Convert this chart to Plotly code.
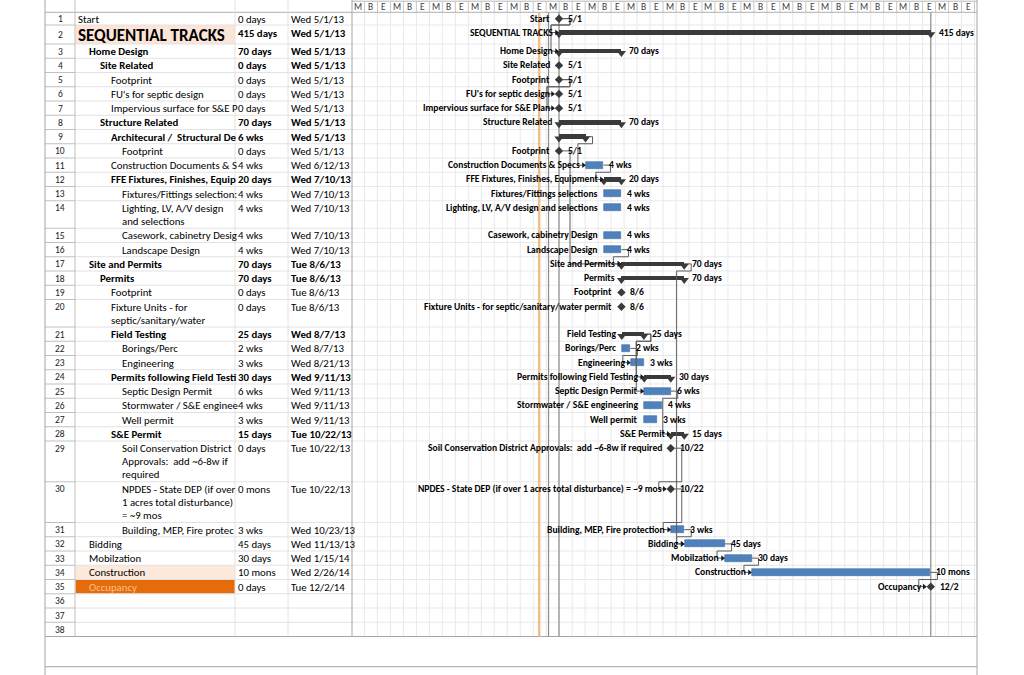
import plotly.graph_objects as go
from datetime import datetime, timedelta

# ------------------------------------------------------------------ data
row_ids = list(range(1, 39))

table_names = [
    "Start", "SEQUENTIAL TRACKS", "Home Design", "Site Related", "Footprint",
    "FU's for septic design", "Impervious surface for S&E P", "Structure Related",
    "Architecural /  Structural De", "Footprint", "Construction Documents & S",
    "FFE Fixtures, Finishes, Equip", "Fixtures/Fittings selection:",
    "Lighting, LV, A/V design\nand selections", "Casework, cabinetry Desig",
    "Landscape Design", "Site and Permits", "Permits", "Footprint",
    "Fixture Units - for\nseptic/sanitary/water", "Field Testing", "Borings/Perc",
    "Engineering", "Permits following Field Testi", "Septic Design Permit",
    "Stormwater / S&E enginee", "Well permit", "S&E Permit",
    "Soil Conservation District\nApprovals:  add ~6-8w if\nrequired",
    "NPDES - State DEP (if over\n1 acres total disturbance)\n= ~9 mos",
    "Building, MEP, Fire protec", "Bidding", "Mobilzation", "Construction", "Occupancy",
]

durations = [
    "0 days", "415 days", "70 days", "0 days", "0 days", "0 days", "0 days", "70 days",
    "6 wks", "0 days", "4 wks", "20 days", "4 wks", "4 wks", "4 wks", "4 wks",
    "70 days", "70 days", "0 days", "0 days", "25 days", "2 wks", "3 wks", "30 days",
    "6 wks", "4 wks", "3 wks", "15 days", "0 days", "0 mons", "3 wks", "45 days",
    "30 days", "10 mons", "0 days",
]

start_labels = [
    "Wed 5/1/13", "Wed 5/1/13", "Wed 5/1/13", "Wed 5/1/13", "Wed 5/1/13", "Wed 5/1/13",
    "Wed 5/1/13", "Wed 5/1/13", "Wed 5/1/13", "Wed 5/1/13", "Wed 6/12/13", "Wed 7/10/13",
    "Wed 7/10/13", "Wed 7/10/13", "Wed 7/10/13", "Wed 7/10/13", "Tue 8/6/13", "Tue 8/6/13",
    "Tue 8/6/13", "Tue 8/6/13", "Wed 8/7/13", "Wed 8/7/13", "Wed 8/21/13", "Wed 9/11/13",
    "Wed 9/11/13", "Wed 9/11/13", "Wed 9/11/13", "Tue 10/22/13", "Tue 10/22/13",
    "Tue 10/22/13", "Wed 10/23/13", "Wed 11/13/13", "Wed 1/15/14", "Wed 2/26/14", "Tue 12/2/14",
]

outline_level = [0, 0, 1, 2, 3, 3, 3, 2, 3, 4, 3, 3, 4, 4, 4, 4, 1, 2, 3, 3, 3, 4, 4, 3, 4,
                 4, 4, 3, 4, 4, 4, 1, 1, 1, 1]

is_summary = [False, True, True, True, False, False, False, True, True, False, False, True,
              False, False, False, False, True, True, False, False, True, False, False, True,
              False, False, False, True, False, False, False, False, False, False, False]

bar_kind = ["milestone", "summary", "summary", "milestone", "milestone", "milestone",
            "milestone", "summary", "summary", "milestone", "task", "summary", "task", "task",
            "task", "task", "summary", "summary", "milestone", "milestone", "summary", "task",
            "task", "summary", "task", "task", "task", "summary", "milestone", "milestone",
            "task", "task", "task", "task", "milestone"]

bar_start = [
    "2013-05-01 08:00", "2013-05-01 08:00", "2013-05-01 08:00", "2013-05-01 08:00",
    "2013-05-01 08:00", "2013-05-01 08:00", "2013-05-01 08:00", "2013-05-01 08:00",
    "2013-05-01 08:00", "2013-05-01 08:00", "2013-06-12 08:00", "2013-07-10 08:00",
    "2013-07-10 08:00", "2013-07-10 08:00", "2013-07-10 08:00", "2013-07-10 08:00",
    "2013-08-06 17:00", "2013-08-06 17:00", "2013-08-06 17:00", "2013-08-06 17:00",
    "2013-08-07 08:00", "2013-08-07 08:00", "2013-08-21 08:00", "2013-09-11 08:00",
    "2013-09-11 08:00", "2013-09-11 08:00", "2013-09-11 08:00", "2013-10-22 17:00",
    "2013-10-22 17:00", "2013-10-22 17:00", "2013-10-23 08:00", "2013-11-13 08:00",
    "2014-01-15 08:00", "2014-02-26 08:00", "2014-12-02 08:00",
]

bar_finish = [
    "2013-05-01 08:00", "2014-12-02 08:00", "2013-08-06 17:00", "2013-05-01 08:00",
    "2013-05-01 08:00", "2013-05-01 08:00", "2013-05-01 08:00", "2013-08-06 17:00",
    "2013-06-11 17:00", "2013-05-01 08:00", "2013-07-09 17:00", "2013-08-06 17:00",
    "2013-08-06 17:00", "2013-08-06 17:00", "2013-08-06 17:00", "2013-08-06 17:00",
    "2013-11-12 17:00", "2013-11-12 17:00", "2013-08-06 17:00", "2013-08-06 17:00",
    "2013-09-10 17:00", "2013-08-20 17:00", "2013-09-10 17:00", "2013-10-22 17:00",
    "2013-10-22 17:00", "2013-10-08 17:00", "2013-10-01 17:00", "2013-11-12 17:00",
    "2013-10-22 17:00", "2013-10-22 17:00", "2013-11-12 17:00", "2014-01-14 17:00",
    "2014-02-25 17:00", "2014-12-01 17:00", "2014-12-02 08:00",
]

chart_names = [
    "Start", "SEQUENTIAL TRACKS", "Home Design", "Site Related", "Footprint",
    "FU's for septic design", "Impervious surface for S&E Plan", "Structure Related", "",
    "Footprint", "Construction Documents & Specs", "FFE Fixtures, Finishes, Equipment",
    "Fixtures/Fittings selections", "Lighting, LV, A/V design and selections",
    "Casework, cabinetry Design", "Landscape Design", "Site and Permits", "Permits",
    "Footprint", "Fixture Units - for septic/sanitary/water permit", "Field Testing",
    "Borings/Perc", "Engineering", "Permits following Field Testing", "Septic Design Permit",
    "Stormwater / S&E engineering", "Well permit", "S&E Permit",
    "Soil Conservation District Approvals:  add ~6-8w if required",
    "NPDES - State DEP (if over 1 acres total disturbance) = ~9 mos",
    "Building, MEP, Fire protection", "Bidding", "Mobilzation", "Construction", "Occupancy",
]

chart_right = [
    "5/1", "415 days", "70 days", "5/1", "5/1", "5/1", "5/1", "70 days", "", "5/1", "4 wks",
    "20 days", "4 wks", "4 wks", "4 wks", "4 wks", "70 days", "70 days", "8/6", "8/6",
    "25 days", "2 wks", "3 wks", "30 days", "6 wks", "4 wks", "3 wks", "15 days", "10/22",
    "10/22", "3 wks", "45 days", "30 days", "10 mons", "12/2",
]

# predecessor -> successor (row ids)
links = [(1, 2), (1, 3), (5, 6), (5, 7), (9, 11), (11, 12), (10, 17), (16, 17), (22, 23),
         (21, 24), (21, 25), (25, 28), (29, 30), (30, 31), (17, 32), (31, 32), (32, 33),
         (33, 34), (34, 35)]

# vertical marker lines: (date, colour, width)
marker_lines = [("2013-03-31 10:00", "#F2BE8A", 2.5), ("2013-04-15 00:00", "#8C8C8C", 1.2),
                ("2013-05-01 08:00", "#8C8C8C", 1.2), ("2014-12-02 08:00", "#8C8C8C", 1.2)]

timescale_letters = ["M", "B", "E"] * 16

# ------------------------------------------------------------------ geometry
W, H = 1024, 675
X_TABLE_L, X_ID_R, X_NAME_R, X_DUR_R, X_CHART_L, X_CHART_R = 45, 75, 235, 288, 352, 977
Y_HEADER_B = 12.3
ORIGIN = datetime(2013, 5, 1, 8)
ORIGIN_PX = 559.0
PX_PER_DAY = 0.641
CELL_W = 12.98
CELL_X0 = 351.5

FONT = "Carlito, 'Liberation Sans Narrow', 'Arial Narrow', 'Roboto Condensed', Roboto, sans-serif"


def P(x):
    return x / W


def to_dt(s):
    return datetime.strptime(s, "%Y-%m-%d %H:%M")


def date_px(d):
    return ORIGIN_PX + (d - ORIGIN).total_seconds() / 86400.0 * PX_PER_DAY


def px_date(x):
    return ORIGIN + timedelta(days=(x - ORIGIN_PX) / PX_PER_DAY)


n_tasks = len(table_names)
row_lines = [1] * 38
for i, nm in enumerate(table_names):
    row_lines[i] = nm.count("\n") + 1

heights = []
for i in range(38):
    if i == 0:
        heights.append(12.7)
    elif i == 1:
        heights.append(19.0)
    else:
        heights.append(14.25 + 13.25 * (row_lines[i] - 1))
tops = []
yy = Y_HEADER_B
for h in heights:
    tops.append(yy)
    yy += h
Y_BOTTOM = yy

bar_y = [tops[i] + (7.5 if i == 1 else min(7.2, heights[i] / 2)) for i in range(38)]

starts = [to_dt(s) for s in bar_start]
finishes = [to_dt(s) for s in bar_finish]

x_min = px_date(X_CHART_L)
x_max = px_date(X_CHART_R)

fig = go.Figure()
shapes = []
annotations = []


def hline(x0, x1, y, color, width=1, layer="below"):
    shapes.append(dict(type="line", xref="paper", yref="y", x0=P(x0), x1=P(x1), y0=y, y1=y,
                       line=dict(color=color, width=width), layer=layer))


def vline(x, y0, y1, color, width=1, layer="below"):
    shapes.append(dict(type="line", xref="paper", yref="y", x0=P(x), x1=P(x), y0=y0, y1=y1,
                       line=dict(color=color, width=width), layer=layer))


# cell fills
fills = {1: "#FCE4D6", 33: "#FDE9D9", 34: "#E46C0A"}
for i, col in fills.items():
    shapes.append(dict(type="rect", xref="paper", yref="y", x0=P(X_ID_R + 0.5), x1=P(X_NAME_R),
                       y0=tops[i], y1=tops[i] + heights[i], fillcolor=col, line=dict(width=0),
                       layer="below"))

# chart grid: vertical cell lines
for k in range(49):
    x = CELL_X0 + CELL_W * k
    if X_CHART_L < x < X_CHART_R:
        vline(x, Y_HEADER_B, Y_BOTTOM, "#E9E9E9")
        vline(x, 1.5, Y_HEADER_B, "#C8C8C8")

# row lines
for i in range(38):
    yb = tops[i] + heights[i]
    hline(X_TABLE_L, X_ID_R, yb, "#C0C0C0")
    hline(X_ID_R, X_CHART_L, yb, "#E2E2E2")
    hline(X_CHART_L, X_CHART_R, yb, "#E9E9E9")

# header / frame lines
hline(X_TABLE_L, X_CHART_R, Y_HEADER_B, "#B0B0B0")
hline(X_CHART_L, X_CHART_R, 1.2, "#B8B8B8")
vline(X_ID_R, 0, Y_BOTTOM, "#C0C0C0")
vline(X_NAME_R, 0, Y_BOTTOM, "#E2E2E2")
vline(X_DUR_R, 0, Y_BOTTOM, "#E2E2E2")
vline(X_CHART_L, 0, Y_BOTTOM, "#A6A6A6")
vline(X_TABLE_L, 0, H, "#A6A6A6")
vline(X_CHART_R, 0, H, "#A6A6A6")
hline(X_TABLE_L, X_CHART_R, Y_BOTTOM, "#A6A6A6")
hline(X_TABLE_L, X_CHART_R, 666.7, "#A6A6A6")

# marker lines on the date axis
for d, col, w in marker_lines:
    shapes.append(dict(type="line", xref="x", yref="y", x0=to_dt(d), x1=to_dt(d),
                       y0=Y_HEADER_B, y1=Y_BOTTOM, line=dict(color=col, width=w), layer="below"))

# timescale letters
for k, letter in enumerate(timescale_letters):
    annotations.append(dict(x=P(CELL_X0 + CELL_W * (k + 0.5)), y=7.2, xref="paper", yref="y",
                            text=letter, showarrow=False, xanchor="center", yanchor="middle",
                            font=dict(family=FONT, size=9.5, color="#404040")))

# ------------------------------------------------------------------ table text
for i in range(38):
    yc = tops[i] + heights[i] / 2 + 0.5
    annotations.append(dict(x=P((X_TABLE_L + X_ID_R) / 2), y=yc if row_lines[i] == 1 else tops[i] + 7.5,
                            xref="paper", yref="y", text=str(row_ids[i]), showarrow=False,
                            xanchor="center", yanchor="middle",
                            font=dict(family=FONT, size=9.5, color="#222")))

for i in range(n_tasks):
    bold = is_summary[i]
    size = 10.8
    color = "#000"
    if i == 1:
        size = 17
    if i == 34:
        color = "#FAC090"
    lines = table_names[i].split("\n")
    for k, ln in enumerate(lines):
        y = tops[i] + heights[i] / 2 + 0.5 if len(lines) == 1 else tops[i] + 7.5 + 13.0 * k
        if i == 1:
            y = tops[i] + heights[i] / 2 + 0.8
        txt = "<b>%s</b>" % ln if bold else ln
        annotations.append(dict(x=P(X_ID_R + 1 + 11 * outline_level[i]), y=y, xref="paper", yref="y",
                                text=txt, showarrow=False, xanchor="left", yanchor="middle",
                                font=dict(family=FONT, size=size, color=color)))
    y1 = tops[i] + heights[i] / 2 + 0.5 if len(lines) == 1 else tops[i] + 7.5
    if i == 1:
        y1 = tops[i] + 8.5
    for x0, txt in ((X_NAME_R + 0.5, durations[i]), (X_DUR_R + 0.5, start_labels[i])):
        annotations.append(dict(x=P(x0), y=y1, xref="paper", yref="y",
                                text="<b>%s</b>" % txt if bold else txt, showarrow=False,
                                xanchor="left", yanchor="middle",
                                font=dict(family=FONT, size=10.8, color="#000")))

# ------------------------------------------------------------------ links
lx, ly, ax, ay = [], [], [], []
for p, s in links:
    pi, si = p - 1, s - 1
    xe = date_px(finishes[pi]) + (4 if bar_kind[pi] == "milestone" else 0)
    xs = date_px(starts[si]) - (4 if bar_kind[si] == "milestone" else 0)
    ye, ys = bar_y[pi], bar_y[si]
    if xs - xe > 14:
        pts = [(xe, ye), (xe + 7, ye), (xe + 7, ys), (xs - 2, ys)]
    else:
        yb = tops[pi] + heights[pi]
        pts = [(xe, ye), (xe + 7, ye), (xe + 7, yb), (xs - 8, yb), (xs - 8, ys), (xs - 2, ys)]
    for x, y in pts:
        lx.append(px_date(x))
        ly.append(y)
    lx.append(None)
    ly.append(None)
    ax.append(px_date(xs - 2.5))
    ay.append(ys)

fig.add_trace(go.Scatter(x=lx, y=ly, mode="lines", line=dict(color="#5E5E5E", width=1),
                         hoverinfo="skip"))

# ------------------------------------------------------------------ bars
sum_idx = [i for i in range(n_tasks) if bar_kind[i] == "summary"]
task_idx = [i for i in range(n_tasks) if bar_kind[i] == "task"]
ms_idx = [i for i in range(n_tasks) if bar_kind[i] == "milestone"]

fig.add_trace(go.Bar(orientation="h",
                     base=[starts[i] for i in task_idx],
                     x=[(finishes[i] - starts[i]).total_seconds() * 1000 for i in task_idx],
                     y=[bar_y[i] for i in task_idx], width=7,
                     marker=dict(color="#4F81BD", line=dict(color="#3E6BA3", width=0.6)),
                     hoverinfo="skip"))
fig.add_trace(go.Bar(orientation="h",
                     base=[starts[i] for i in sum_idx],
                     x=[(finishes[i] - starts[i]).total_seconds() * 1000 for i in sum_idx],
                     y=[bar_y[i] for i in sum_idx], width=4.5,
                     marker=dict(color="#3A3A3A", line=dict(width=0)), hoverinfo="skip"))
cap_x, cap_y = [], []
for i in sum_idx:
    cap_x += [starts[i], finishes[i]]
    cap_y += [bar_y[i] + 1.8, bar_y[i] + 1.8]
fig.add_trace(go.Scatter(x=cap_x, y=cap_y, mode="markers",
                         marker=dict(symbol="triangle-down", size=8, color="#3A3A3A"),
                         hoverinfo="skip"))
fig.add_trace(go.Scatter(x=[starts[i] for i in ms_idx], y=[bar_y[i] for i in ms_idx],
                         mode="markers", marker=dict(symbol="diamond", size=6.5, color="#3A3A3A"),
                         hoverinfo="skip"))
fig.add_trace(go.Scatter(x=ax, y=ay, mode="markers",
                         marker=dict(symbol="triangle-right", size=5, color="#1A1A1A"),
                         hoverinfo="skip"))

# chart labels
CF = 9.6
for i in range(n_tasks):
    kind = bar_kind[i]
    lshift = {"milestone": -7, "summary": -4, "task": -4}[kind]
    rshift = {"milestone": 7, "summary": 6, "task": 4}[kind]
    if chart_names[i]:
        annotations.append(dict(x=starts[i], y=bar_y[i], xref="x", yref="y",
                                text="<b>%s</b>" % chart_names[i], showarrow=False,
                                xanchor="right", yanchor="middle", xshift=lshift,
                                font=dict(family=FONT, size=CF, color="#000")))
    if chart_right[i]:
        annotations.append(dict(x=finishes[i], y=bar_y[i], xref="x", yref="y",
                                text="<b>%s</b>" % chart_right[i], showarrow=False,
                                xanchor="left", yanchor="middle", xshift=rshift,
                                font=dict(family=FONT, size=CF, color="#000")))

fig.update_layout(
    width=W, height=H, margin=dict(l=0, r=0, t=0, b=0),
    paper_bgcolor="white", plot_bgcolor="rgba(0,0,0,0)",
    showlegend=False, barmode="overlay", bargap=0,
    xaxis=dict(type="date", domain=[P(X_CHART_L), P(X_CHART_R)], range=[x_min, x_max],
               visible=False, showgrid=False, zeroline=False),
    yaxis=dict(range=[H, 0], domain=[0, 1], visible=False, showgrid=False, zeroline=False),
    shapes=shapes, annotations=annotations,
)

fig.write_html("out.html")
